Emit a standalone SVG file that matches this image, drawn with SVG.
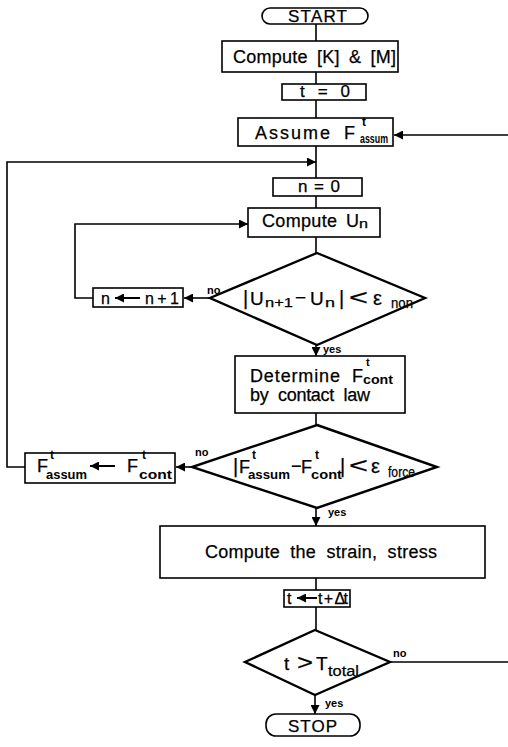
<svg xmlns="http://www.w3.org/2000/svg" width="508" height="747" viewBox="0 0 508 747">
<defs>
<style>
.b{fill:#fff;stroke:#000;stroke-width:1.6}
.d{fill:#fff;stroke:#000;stroke-width:2.4;stroke-linejoin:miter}
.c{fill:none;stroke:#000;stroke-width:1.6}
.ia{fill:none;stroke:#000;stroke-width:2}
text{font-family:"Liberation Sans",Arial,Helvetica,sans-serif;fill:#000;stroke:#000;stroke-width:0.25}
.s{font-weight:bold;stroke-width:0}
.l{font-weight:bold;stroke-width:0}
</style>
<marker id="a" viewBox="0 0 10 10" refX="10" refY="5" markerWidth="10" markerHeight="9" markerUnits="userSpaceOnUse" orient="auto">
<path d="M0,0 L10,5 L0,10 z" fill="#000"/>
</marker>
<marker id="ai" viewBox="0 0 10 10" refX="10" refY="5" markerWidth="9" markerHeight="9" markerUnits="userSpaceOnUse" orient="auto">
<path d="M0,0 L10,5 L0,10 z" fill="#000"/>
</marker>
</defs>
<rect width="508" height="747" fill="#fff"/>
<g id="connectors">
<path class="c" d="M316,24 V41 M316,72 V84 M316,100 V118 M316,146 V178 M316,196 V208 M316,237 V253 M316,413 V425 M316,578 V590 M316,607 V630"/>
<path class="c" d="M25,467 H7 V162 H316" marker-end="url(#a)"/>
<path class="c" d="M210,298 H184" marker-end="url(#a)"/>
<path class="c" d="M93,298 H75 V224 H248" marker-end="url(#a)"/>
<path class="c" d="M316,345 V356" marker-end="url(#a)"/>
<path class="c" d="M192,467 H176" marker-end="url(#a)"/>
<path class="c" d="M316,508 V526" marker-end="url(#a)"/>
<path class="c" d="M390,662 H508"/>
<path class="c" d="M508,135 H394" marker-end="url(#a)"/>
<path class="c" d="M315,695 V714" marker-end="url(#a)"/>
<text class="l" x="207" y="294" font-size="11">no</text>
<text class="l" x="323" y="353" font-size="11">yes</text>
<text class="l" x="195" y="456" font-size="11">no</text>
<text class="l" x="328" y="516" font-size="11">yes</text>
<text class="l" x="393" y="657" font-size="11">no</text>
<text class="l" x="325" y="707" font-size="11">yes</text>
</g>
<g id="start">
<rect class="b" x="262" y="8" width="106" height="16" rx="8"/>
<text x="288" y="22" font-size="17" textLength="59">START</text>
</g>
<g id="computeKM">
<rect class="b" x="222" y="41" width="176" height="31"/>
<text x="233" y="63" font-size="18" textLength="163" word-spacing="4">Compute [K] &amp; [M]</text>
</g>
<g id="t0">
<rect class="b" x="282" y="84" width="84" height="16"/>
<text x="300" y="97" font-size="17" textLength="50">t = 0</text>
</g>
<g id="assume">
<rect class="b" x="238" y="118" width="155" height="28"/>
<text x="255" y="139" font-size="18" textLength="75">Assume</text>
<text x="344" y="139" font-size="18">F</text>
<text class="s" x="362" y="126" font-size="12">t</text>
<text class="s" x="360" y="143" font-size="13" textLength="28" lengthAdjust="spacingAndGlyphs">assum</text>
</g>
<g id="n0">
<rect class="b" x="273" y="178" width="89" height="18"/>
<text x="298" y="192" font-size="17" textLength="42">n = 0</text>
</g>
<g id="computeUn">
<rect class="b" x="248" y="208" width="132" height="29"/>
<text x="262" y="227" font-size="18" textLength="75">Compute</text>
<text x="346" y="227" font-size="18">U</text>
<text x="359" y="228" font-size="12" textLength="9" lengthAdjust="spacingAndGlyphs">n</text>
</g>
<g id="diamond1">
<path class="d" d="M317,253 L425,298 L317,345 L210,298 Z"/>
<text x="243" y="305" font-size="20">|</text>
<text x="250" y="305" font-size="19">U</text>
<text x="265" y="307" font-size="13" textLength="28" lengthAdjust="spacingAndGlyphs">n+1</text>
<text x="295" y="304" font-size="19">−</text>
<text x="310" y="305" font-size="19">U</text>
<text x="325" y="307" font-size="13" textLength="10" lengthAdjust="spacingAndGlyphs">n</text>
<text x="339" y="305" font-size="20">|</text>
<text x="349" y="305" font-size="22" textLength="19" lengthAdjust="spacingAndGlyphs">&lt;</text>
<text x="373" y="305" font-size="20">ε</text>
<text x="391" y="308" font-size="14" textLength="22" lengthAdjust="spacingAndGlyphs">non</text>
</g>
<g id="nplus">
<rect class="b" x="93" y="288" width="90" height="19"/>
<text x="101" y="304" font-size="16">n</text>
<path class="ia" d="M140,298 H115" marker-end="url(#ai)"/>
<text x="145" y="304" font-size="16" textLength="34">n+1</text>
</g>
<g id="determine">
<rect class="b" x="235" y="356" width="170" height="57"/>
<text x="250" y="382" font-size="18" textLength="90">Determine</text>
<text x="352" y="382" font-size="18">F</text>
<text class="s" x="366" y="366" font-size="11">t</text>
<text class="s" x="363" y="384" font-size="13" textLength="30" lengthAdjust="spacingAndGlyphs">cont</text>
<text x="250" y="401" font-size="18" textLength="120" word-spacing="5">by contact law</text>
</g>
<g id="diamond2">
<path class="d" d="M317,425 L437,467 L317,508 L192,467 Z"/>
<text x="233" y="473" font-size="20">|</text>
<text x="239" y="473" font-size="18">F</text>
<text class="s" x="252" y="459" font-size="12">t</text>
<text class="s" x="248" y="479" font-size="13" textLength="42" lengthAdjust="spacingAndGlyphs">assum</text>
<text x="291" y="472" font-size="18">−</text>
<text x="301" y="473" font-size="18">F</text>
<text class="s" x="315" y="459" font-size="12">t</text>
<text class="s" x="311" y="479" font-size="13" textLength="31" lengthAdjust="spacingAndGlyphs">cont</text>
<text x="340" y="473" font-size="20">|</text>
<text x="349" y="473" font-size="22" textLength="19" lengthAdjust="spacingAndGlyphs">&lt;</text>
<text x="371" y="473" font-size="20">ε</text>
<text x="388" y="477" font-size="14" textLength="27" lengthAdjust="spacingAndGlyphs">force</text>
</g>
<g id="fupdate">
<rect class="b" x="25" y="453" width="150" height="30"/>
<text x="37" y="472" font-size="18">F</text>
<text class="s" x="50" y="459" font-size="12">t</text>
<text class="s" x="46" y="479" font-size="13" textLength="41" lengthAdjust="spacingAndGlyphs">assum</text>
<path class="ia" d="M115,466 H90" marker-end="url(#ai)"/>
<text x="127" y="472" font-size="18">F</text>
<text class="s" x="142" y="459" font-size="12">t</text>
<text class="s" x="139" y="479" font-size="13" textLength="33" lengthAdjust="spacingAndGlyphs">cont</text>
</g>
<g id="strain">
<rect class="b" x="160" y="526" width="325" height="52"/>
<text x="205" y="558" font-size="18" textLength="232" word-spacing="5">Compute the strain, stress</text>
</g>
<g id="tupdate">
<rect class="b" x="284" y="590" width="66" height="17"/>
<text x="287" y="604" font-size="16">t</text>
<path class="ia" d="M317,598 H297" marker-end="url(#ai)"/>
<text x="318" y="604" font-size="16" textLength="30">t + Δt</text>
</g>
<g id="diamond3">
<path class="d" d="M315,630 L390,662 L315,695 L245,662 Z"/>
<text x="284" y="670" font-size="19">t</text>
<text x="297" y="670" font-size="22" textLength="16" lengthAdjust="spacingAndGlyphs">&gt;</text>
<text x="316" y="670" font-size="19">T</text>
<text x="328" y="676" font-size="14" textLength="31" lengthAdjust="spacingAndGlyphs">total</text>
</g>
<g id="stop">
<rect class="b" x="266" y="714" width="94" height="22" rx="10"/>
<text x="288" y="732" font-size="17" textLength="49">STOP</text>
</g>
</svg>
